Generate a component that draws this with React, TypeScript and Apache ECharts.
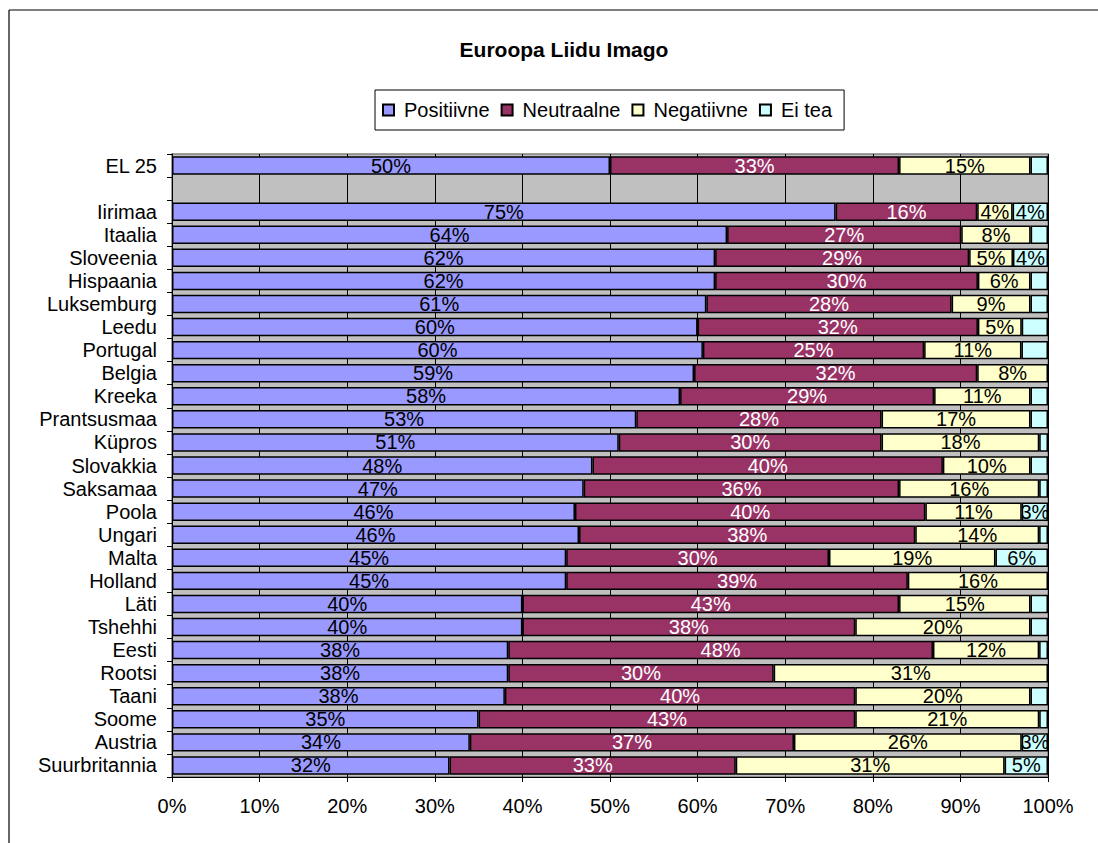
import React, { useEffect, useRef } from "react";
import * as echarts from "echarts";

const categories = [
  "EL 25", "", "Iirimaa", "Itaalia", "Sloveenia", "Hispaania", "Luksemburg", "Leedu",
  "Portugal", "Belgia", "Kreeka", "Prantsusmaa", "Küpros", "Slovakkia", "Saksamaa",
  "Poola", "Ungari", "Malta", "Holland", "Läti", "Tshehhi", "Eesti", "Rootsi",
  "Taani", "Soome", "Austria", "Suurbritannia",
];
const positiivne = [50, null, 75, 64, 62, 62, 61, 60, 60, 59, 58, 53, 51, 48, 47, 46, 46, 45, 45, 40, 40, 38, 38, 38, 35, 34, 32];
const neutraalne = [33, null, 16, 27, 29, 30, 28, 32, 25, 32, 29, 28, 30, 40, 36, 40, 38, 30, 39, 43, 38, 48, 30, 40, 43, 37, 33];
const negatiivne = [15, null, 4, 8, 5, 6, 9, 5, 11, 8, 11, 17, 18, 10, 16, 11, 14, 19, 16, 15, 20, 12, 31, 20, 21, 26, 31];
const eiTea = [2, null, 4, 2, 4, 2, 2, 3, 3, 0, 2, 2, 1, 2, 1, 3, 1, 6, 0, 2, 2, 1, 0, 2, 1, 3, 5];
const eiTeaLabelled = [false, false, true, false, true, false, false, false, false, false, false, false, false, false, false, true, false, true, false, false, false, false, false, false, false, true, true];
const xTicks = [0, 10, 20, 30, 40, 50, 60, 70, 80, 90, 100];

const seriesDefs = [
  { name: "Positiivne", values: positiivne, color: "#9999FF", text: "#000000" },
  { name: "Neutraalne", values: neutraalne, color: "#993366", text: "#FFFFFF" },
  { name: "Negatiivne", values: negatiivne, color: "#FFFFCC", text: "#000000" },
  { name: "Ei tea", values: eiTea, color: "#CCFFFF", text: "#000000" },
];

const FONT = "'Liberation Sans', Arial, sans-serif";

export default function App() {
  const ref = useRef<HTMLDivElement>(null);
  useEffect(() => {
    if (!ref.current) return;
    const chart = echarts.init(ref.current, null, { renderer: "svg" });
    const totals = categories.map((_, i) =>
      seriesDefs.reduce((s, d) => s + ((d.values[i] as number) || 0), 0)
    );
    const series = seriesDefs.map((d, si) => ({
      name: d.name,
      type: "bar",
      stack: "total",
      barCategoryGap: "20%",
      itemStyle: { color: d.color, borderColor: "#000000", borderWidth: 1.5 },
      label: {
        show: true,
        position: "inside",
        color: d.text,
        fontFamily: FONT,
        fontSize: 20,
        formatter: (p: any) => (p.data && p.data.raw != null ? p.data.raw + "%" : ""),
      },
      data: d.values.map((v, i) => {
        if (v == null || v === 0) return { value: "-", raw: null };
        const item: any = { value: ((v as number) / totals[i]) * 100, raw: v };
        if (si === 3 && !eiTeaLabelled[i]) item.label = { show: false };
        return item;
      }),
    }));
    chart.setOption({
      animation: false,
      backgroundColor: "#FFFFFF",
      title: {
        text: "Euroopa Liidu Imago",
        left: 559,
        textAlign: "center",
        top: 34,
        textStyle: { fontFamily: FONT, fontSize: 21, fontWeight: "bold", color: "#000000" },
      },
      legend: {
        left: 375,
        top: 90,
        padding: [10, 12, 10, 7],
        itemGap: 11,
        itemWidth: 11,
        itemHeight: 11,
        borderColor: "#000000",
        borderWidth: 1,
        icon: "rect",
        textStyle: { fontFamily: FONT, fontSize: 20, color: "#000000", padding: [0, 0, 0, 5] },
        data: seriesDefs.map((d) => d.name),
      },
      grid: {
        left: 172,
        right: 50,
        top: 154,
        bottom: 66,
        show: true,
        backgroundColor: "#C0C0C0",
        borderColor: "#808080",
        borderWidth: 1.5,
      },
      xAxis: {
        type: "value",
        min: 0,
        max: 100,
        interval: 10,
        axisLine: { show: true, lineStyle: { color: "#000000", width: 1 } },
        axisTick: { show: true, length: 5, lineStyle: { color: "#000000" } },
        splitLine: { show: true, lineStyle: { color: "#000000", width: 1 } },
        axisLabel: {
          fontFamily: FONT,
          fontSize: 20,
          color: "#000000",
          margin: 19,
          formatter: (v: number) => (xTicks.includes(v) ? v + "%" : ""),
        },
      },
      yAxis: {
        type: "category",
        inverse: true,
        data: categories,
        axisLine: { show: true, lineStyle: { color: "#000000", width: 1 } },
        axisTick: { show: true, length: 5, lineStyle: { color: "#000000" } },
        axisLabel: { interval: 0, fontFamily: FONT, fontSize: 20, color: "#000000", margin: 15 },
      },
      graphic: [
        { type: "line", shape: { x1: 9, y1: 10, x2: 1098, y2: 10 }, style: { stroke: "#000000", lineWidth: 1.2 } },
        { type: "line", shape: { x1: 9, y1: 10, x2: 9, y2: 843 }, style: { stroke: "#000000", lineWidth: 1.2 } },
      ],
      series,
    });
    return () => chart.dispose();
  }, []);
  return (
    <div
      ref={ref}
      style={{ position: "absolute", left: 0, top: 0, width: 1098, height: 843 }}
    />
  );
}
